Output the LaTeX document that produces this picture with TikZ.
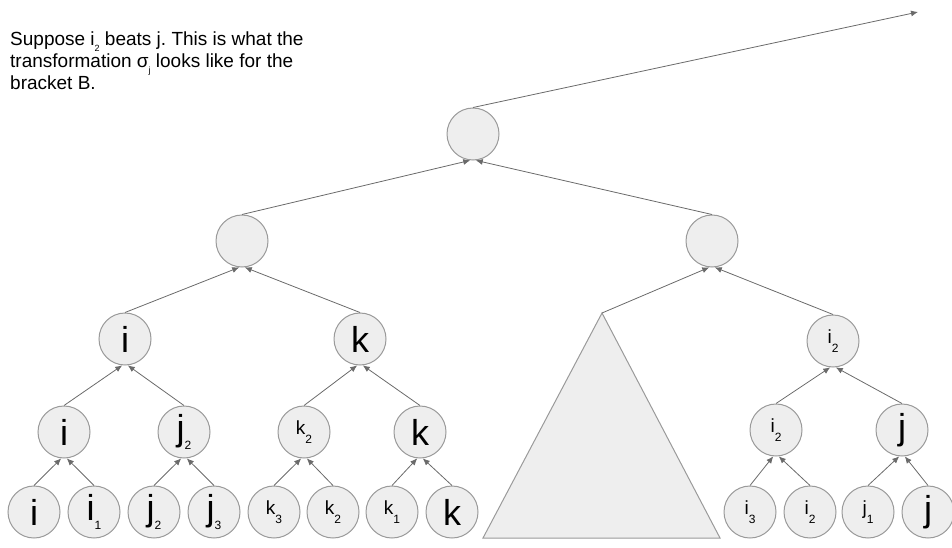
\documentclass[tikz,border=0pt]{standalone}
\usepackage{fontspec}
\setmainfont{Liberation Sans}
\usetikzlibrary{arrows.meta}
\definecolor{linegray}{HTML}{6A6A6A}
\definecolor{ringgray}{HTML}{9A9A9A}
\definecolor{ballfill}{HTML}{EEEEEE}
\tikzstyle{ball} = [circle,draw=ringgray,fill=ballfill,line width=1pt,minimum size=52pt,inner sep=0pt]
\tikzstyle{wire} = [draw=linegray,line width=0.8pt,-{Latex[length=7pt,width=6pt]}]
\tikzstyle{tri} = [draw=ringgray,fill=ballfill,line width=1pt,line join=miter]
\newcommand{\bigname}[1]{{\fontsize{36}{36}\selectfont #1}}
\newcommand{\smallname}[1]{{\fontsize{19}{19}\selectfont #1}}
\newcommand{\lowsub}[1]{\raisebox{-9pt}{\fontsize{12}{12}\selectfont #1}}
\newcommand{\txtsub}[1]{\raisebox{-5.5pt}{\fontsize{9}{9}\selectfont #1}}
\frenchspacing

\begin{document}
\begin{tikzpicture}[x=1pt,y=-1pt]
    \useasboundingbox (0,0) rectangle (952,548);

    \node [anchor=north west,inner sep=0pt,align=left,font=\fontsize{19}{22}\selectfont] (note) at (10,32)
      {Suppose i\txtsub{2} beats j. This is what the\\
       transformation σ\txtsub{j} looks like for the\\
       bracket B.};

    % root and first level
    \node [ball] (root) at (473,134) {};
    \node [ball] (p1) at (242,241) {};
    \node [ball] (p2) at (712,241) {};

    % left half
    \node [ball] (n1) at (125,339) {\bigname{i}};
    \node [ball] (n2) at (360,339) {\bigname{k}};
    \node [ball] (m1) at (64,432) {\bigname{i}};
    \node [ball] (m2) at (184,432) {\bigname{j}\lowsub{2}};
    \node [ball] (m3) at (304,432) {\smallname{k}\lowsub{2}};
    \node [ball] (m4) at (420,432) {\bigname{k}};
    \node [ball] (l1) at (34,512) {\bigname{i}};
    \node [ball] (l2) at (94,512) {\bigname{i}\lowsub{1}};
    \node [ball] (l3) at (154,512) {\bigname{j}\lowsub{2}};
    \node [ball] (l4) at (214,512) {\bigname{j}\lowsub{3}};
    \node [ball] (l5) at (274,512) {\smallname{k}\lowsub{3}};
    \node [ball] (l6) at (333,512) {\smallname{k}\lowsub{2}};
    \node [ball] (l7) at (392,512) {\smallname{k}\lowsub{1}};
    \node [ball] (l8) at (452,512) {\bigname{k}};

    % right half
    \draw [tri] (602,313) coordinate (apex) -- (720,538) -- (483,538) -- cycle;
    \node [ball] (n3) at (833,341) {\smallname{i}\lowsub{2}};
    \node [ball] (m5) at (776,430) {\smallname{i}\lowsub{2}};
    \node [ball] (m6) at (902,430) {\bigname{j}};
    \node [ball] (l9) at (750,512) {\smallname{i}\lowsub{3}};
    \node [ball] (l10) at (810,512) {\smallname{i}\lowsub{2}};
    \node [ball] (l11) at (868,512) {\smallname{j}\lowsub{1}};
    \node [ball] (l12) at (928,512) {\bigname{j}};

    \coordinate (out) at (918,12);

    \draw [wire] (l1.north) -- (m1.-96);
    \draw [wire] (l2.north) -- (m1.-84);
    \draw [wire] (l3.north) -- (m2.-96);
    \draw [wire] (l4.north) -- (m2.-84);
    \draw [wire] (l5.north) -- (m3.-96);
    \draw [wire] (l6.north) -- (m3.-84);
    \draw [wire] (l7.north) -- (m4.-96);
    \draw [wire] (l8.north) -- (m4.-84);
    \draw [wire] (m1.north) -- (n1.-96);
    \draw [wire] (m2.north) -- (n1.-84);
    \draw [wire] (m3.north) -- (n2.-96);
    \draw [wire] (m4.north) -- (n2.-84);
    \draw [wire] (n1.north) -- (p1.-96);
    \draw [wire] (n2.north) -- (p1.-84);

    \draw [wire] (l9.north) -- (m5.-96);
    \draw [wire] (l10.north) -- (m5.-84);
    \draw [wire] (l11.north) -- (m6.-96);
    \draw [wire] (l12.north) -- (m6.-84);
    \draw [wire] (m5.north) -- (n3.-96);
    \draw [wire] (m6.north) -- (n3.-84);
    \draw [wire] (apex) -- (p2.-96);
    \draw [wire] (n3.north) -- (p2.-84);

    \draw [wire] (p1.north) -- (root.-96);
    \draw [wire] (p2.north) -- (root.-84);
    \draw [wire] (root.north) -- (out);
\end{tikzpicture}
\end{document}
